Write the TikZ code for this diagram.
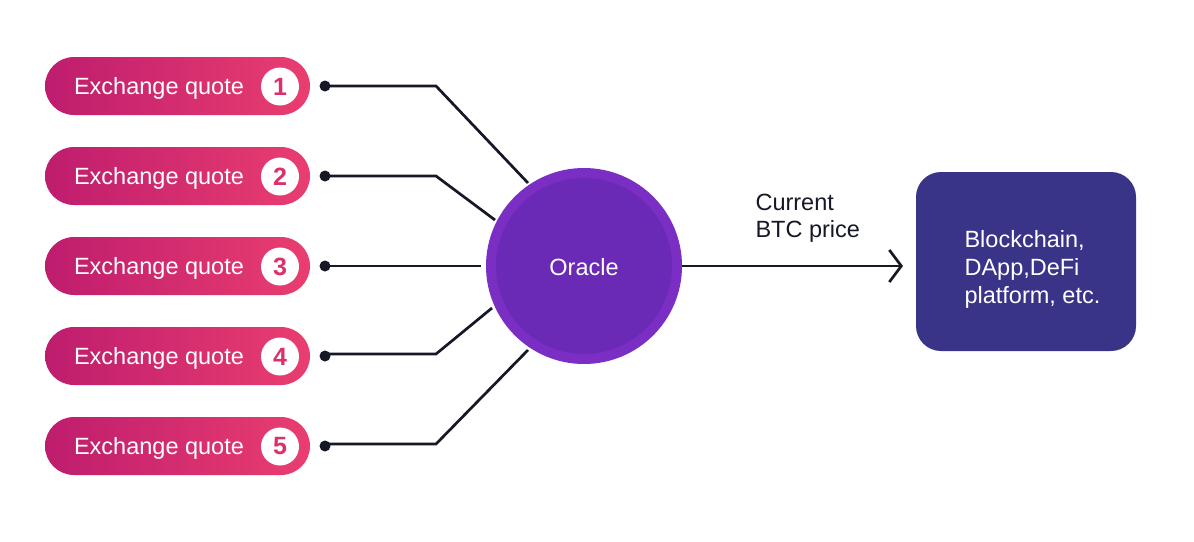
\documentclass[tikz,border=0pt]{standalone}
\usepackage{fontspec}
\setmainfont{Liberation Sans}
\usetikzlibrary{arrows.meta}
\definecolor{pinkL}{RGB}{190,28,110}
\definecolor{pinkR}{RGB}{234,62,112}
\definecolor{numcol}{RGB}{220,48,105}
\definecolor{orOuter}{RGB}{122,46,196}
\definecolor{orInner}{RGB}{106,42,182}
\definecolor{boxcol}{RGB}{58,52,136}
\definecolor{linecol}{RGB}{22,24,38}
\tikzset{
  pill/.style={rounded corners=29pt, minimum width=265pt, minimum height=58pt, inner sep=0pt,
    left color=pinkL, right color=pinkR, draw=none},
  pilltext/.style={text=white, font=\fontsize{23.5}{26}\selectfont, anchor=center},
  numc/.style={circle, fill=white, minimum size=38pt, inner sep=0pt, text=numcol, font=\fontsize{25}{28}\selectfont\bfseries},
  dotn/.style={circle, fill=linecol, minimum size=11pt, inner sep=0pt},
  conn/.style={draw=linecol, line width=2.7pt},
}
\begin{document}
\begin{tikzpicture}[x=1pt,y=-1pt]
\useasboundingbox (0,0) rectangle (1194,541);
\fill[white] (0,0) rectangle (1194,541);
% Oracle
\node[circle, fill=orOuter, minimum size=196pt, inner sep=0pt] (oracle) at (584,266) {};
\node[circle, fill=orInner, minimum size=176pt, inner sep=0pt] (oracleIn) at (584,266) {};
\node[text=white, font=\fontsize{23.5}{26}\selectfont] (oracleT) at (584,267) {Oracle};
% pills
\foreach \i/\y in {1/86,2/176,3/266,4/356,5/446}{
  \node[pill] (p\i) at (177.5,\y) {};
  \node[pilltext] (t\i) at (159,\y+2.5) {Exchange quote};
  \node[numc] (n\i) at (280,\y+0.5) {\i};
  \node[dotn] (d\i) at (325,\y) {};
}
\coordinate (b1) at (436,86);
\coordinate (b2) at (436,176);
\coordinate (b4) at (436,354);
\coordinate (b5) at (436,444);
\coordinate (e1) at (528,183);
\coordinate (e2) at (495,220);
\coordinate (e3) at (481,266);
\coordinate (e4) at (492,308);
\coordinate (e5) at (528,350);
\draw[conn] (d1.center) -- (b1) -- (e1);
\draw[conn] (d2.center) -- (b2) -- (e2);
\draw[conn] (d3.center) -- (e3);
\draw[conn] (d4.center) |- (b4) -- (e4);
\draw[conn] (d5.center) |- (b5) -- (e5);
% target box
\node[fill=boxcol, rounded corners=25pt, minimum width=220pt, minimum height=179pt, inner sep=0pt] (box) at (1026,261.5) {};
\node[text=white, font=\fontsize{23.5}{28}\selectfont, align=left, anchor=west] (boxT) at (961,269) {Blockchain,\\DApp,DeFi\\platform, etc.};
\coordinate (arrEnd) at (903,266);
\draw[conn, -{Straight Barb[length=12pt,width=32pt,line width=2.7pt]}] (oracle.east) -- (arrEnd);
\node[text=linecol, font=\fontsize{23.5}{27}\selectfont, align=left, anchor=west] (lbl) at (752,218) {Current\\BTC price};
\end{tikzpicture}
\end{document}
